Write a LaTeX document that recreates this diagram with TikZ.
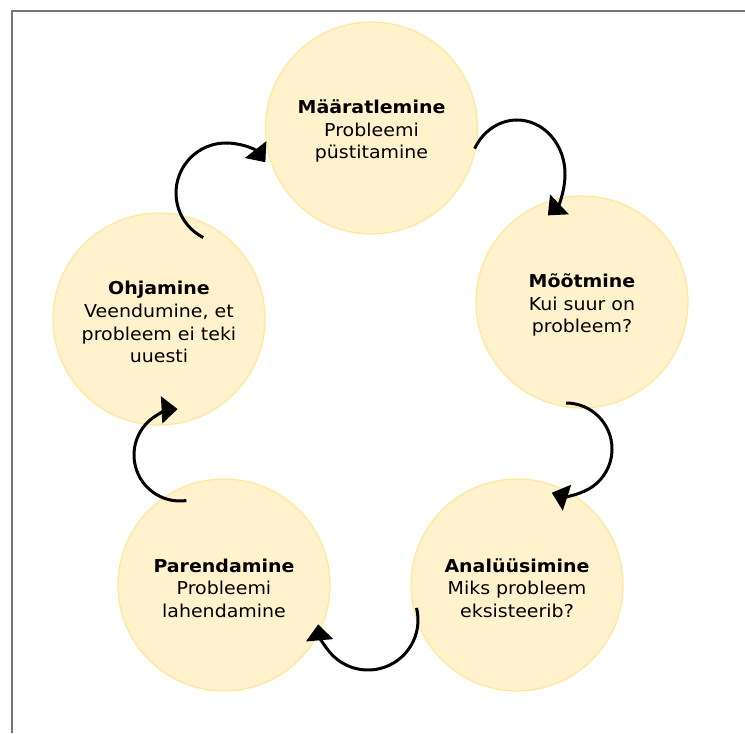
\documentclass[tikz,border=0pt]{standalone}
\usepackage{fontspec}
\setmainfont{DejaVu Sans}[FakeStretch=1.07]
\usetikzlibrary{arrows.meta}
\definecolor{bubfill}{RGB}{255,242,204}
\definecolor{bubline}{RGB}{255,230,153}
\definecolor{framegray}{RGB}{118,118,118}
% strut on the first line pushes the text block slightly below the centre
\newcommand{\firststrut}{\rule{0pt}{15pt}}
\begin{document}
\begin{tikzpicture}[x=0.75pt,y=0.75pt,
  bub/.style={circle,fill=bubfill,draw=bubline,line width=0.9pt,
    minimum size=159pt,inner sep=0pt,align=center,
    font=\fontsize{13.3}{17}\selectfont},
  cyc/.style={line width=2.25pt,
    -{Triangle[length=12pt,width=20pt]}}]
\useasboundingbox (0,0) rectangle (745,733);
% partial page frame (top and left edges)
\draw[framegray,line width=1.1pt] (12,0) -- (12,722) -- (745,722);

% the five stages
\node[bub] (def) at (371.5,605) {\firststrut\textbf{Määratlemine}\\Probleemi\\püstitamine};
\node[bub] (mea) at (582,431) {\firststrut\textbf{Mõõtmine}\\Kui suur on\\probleem?};
\node[bub] (ana) at (517,148) {\firststrut\textbf{Analüüsimine}\\Miks probleem\\eksisteerib?};
\node[bub] (imp) at (224,148) {\firststrut\textbf{Parendamine}\\Probleemi\\lahendamine};
\node[bub] (ctl) at (159,414) {\firststrut\textbf{Ohjamine}\\Veendumine, et\\probleem ei teki\\uuesti};

% centres of the curved arrows between the stages
\coordinate (c1) at (517,559);
\coordinate (c2) at (566,284);
\coordinate (c3) at (368,113);
\coordinate (c4) at (180,278);
\coordinate (c5) at (226,540);

\draw[cyc] ([shift={(152:48 and 54)}]c1) arc[start angle=152,end angle=-50,x radius=48,y radius=54];
\draw[cyc] ([shift={(90:46)}]c2) arc[start angle=90,end angle=-108,radius=46];
\draw[cyc] ([shift={(14:50)}]c3) arc[start angle=14,end angle=-175,radius=50];
\draw[cyc] ([shift={(-82:46)}]c4) arc[start angle=-82,end angle=-267,radius=46];
\draw[cyc] ([shift={(243:50)}]c5) arc[start angle=243,end angle=38,radius=50];
\end{tikzpicture}
\end{document}
